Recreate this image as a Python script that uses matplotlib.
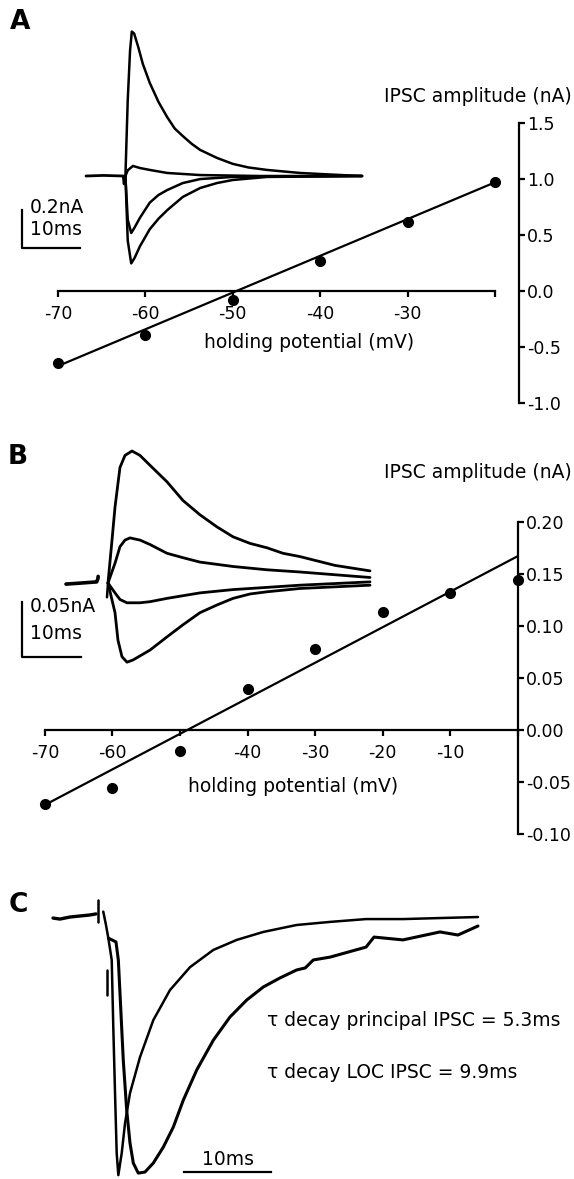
import matplotlib
matplotlib.use("Agg")
import matplotlib.pyplot as plt

W, H = 574, 1179
OUTFILENAME = "out.png"

# ---- panel A: IV relation ----
A_VOLTAGE = [-70, -60, -50, -40, -30, -20]
A_AMPLITUDE = [-0.64, -0.39, -0.08, 0.27, 0.62, 0.97]
A_FIT_V = [-70, -20]
A_FIT_I = [-0.67, 0.97]
A_XTICKS = [-70, -60, -50, -40, -30, -20]
A_XTICKLABELS = ["-70", "-60", "-50", "-40", "-30", ""]
A_YTICKS = [-1.0, -0.5, 0.0, 0.5, 1.0, 1.5]

# panel A traces (ms, nA)
A_BASE_T = [0.0, 3.0, 6.4]
A_BASE_I = [0.0, 0.003, 0.0]
A_ART_T = [6.4, 6.55, 6.8]
A_ART_I = [0.0, -0.042, 0.0]
A_TOP_T = [6.8, 7.2, 7.6, 7.9, 8.3, 8.6, 9.0, 9.8, 11.0, 12.5, 14.0, 15.3, 16.7, 18.2, 19.7, 22.6, 25.3, 28.0, 31.2, 36.9, 42.0, 47.6]
A_TOP_I = [0.0, 0.40, 0.66, 0.76, 0.75, 0.72, 0.68, 0.59, 0.49, 0.39, 0.31, 0.25, 0.21, 0.17, 0.137, 0.095, 0.064, 0.045, 0.032, 0.016, 0.008, 0.0]
A_SMALL_T = [6.8, 7.2, 8.1, 9.3, 11.0, 14.0, 19.7, 30.0, 47.6]
A_SMALL_I = [0.0, 0.03, 0.053, 0.042, 0.032, 0.016, 0.005, 0.0, 0.0]
A_NEG1_T = [6.8, 7.2, 7.8, 8.4, 9.3, 11.0, 12.5, 14.0, 16.7, 19.7, 25.3, 47.6]
A_NEG1_I = [0.0, -0.23, -0.30, -0.27, -0.22, -0.14, -0.10, -0.074, -0.037, -0.016, -0.005, 0.0]
A_NEG2_T = [6.8, 7.2, 7.8, 8.4, 9.3, 11.0, 12.5, 14.0, 16.7, 19.7, 22.6, 25.3, 31.2, 47.6]
A_NEG2_I = [0.0, -0.34, -0.46, -0.43, -0.37, -0.28, -0.225, -0.18, -0.11, -0.063, -0.037, -0.021, -0.005, 0.0]

# ---- panel B: IV relation ----
B_VOLTAGE = [-70, -60, -50, -40, -30, -20, -10, 0]
B_AMPLITUDE = [-0.071, -0.056, -0.020, 0.039, 0.078, 0.113, 0.132, 0.144]
B_FIT_V = [-70, 0]
B_FIT_I = [-0.072, 0.167]
B_XTICKS = [-70, -60, -50, -40, -30, -20, -10, 0]
B_XTICKLABELS = ["-70", "-60", "", "-40", "-30", "-20", "-10", ""]
B_YTICKS = [-0.10, -0.05, 0.0, 0.05, 0.10, 0.15, 0.20]

# panel B traces (ms, nA)
B_BASE_T = [0.0, 2.7, 5.2, 5.42, 5.45]
B_BASE_I = [-0.001, 0.0, 0.001, 0.004, 0.006]
B_ART_T = [6.95, 7.12]
B_ART_I = [-0.013, 0.0]
B_TOP_T = [7.12, 7.80, 8.31, 9.15, 10.0, 11.19, 12.54, 14.24, 17.12, 19.83, 22.71, 25.59, 28.31, 31.19, 34.07, 36.78, 39.66, 45.59, 51.53]
B_TOP_I = [0.0, 0.039, 0.069, 0.105, 0.116, 0.120, 0.116, 0.107, 0.092, 0.075, 0.062, 0.051, 0.042, 0.036, 0.032, 0.027, 0.024, 0.016, 0.011]
B_MID_T = [7.12, 8.31, 9.15, 10.0, 10.85, 12.54, 14.24, 17.12, 19.83, 22.71, 28.31, 34.07, 39.66, 51.53]
B_MID_I = [0.0, 0.018, 0.033, 0.039, 0.041, 0.039, 0.035, 0.027, 0.023, 0.019, 0.015, 0.012, 0.010, 0.005]
B_LOW_T = [7.12, 8.31, 9.15, 10.34, 12.54, 14.24, 17.12, 22.71, 28.31, 34.07, 39.66, 51.53]
B_LOW_I = [0.0, -0.009, -0.015, -0.018, -0.018, -0.017, -0.014, -0.009, -0.006, -0.004, -0.002, 0.001]
B_NEG_T = [7.12, 8.31, 8.81, 9.49, 10.34, 11.36, 14.24, 17.12, 19.83, 22.71, 25.59, 28.31, 31.19, 34.07, 39.66, 51.53]
B_NEG_I = [0.0, -0.027, -0.052, -0.067, -0.072, -0.070, -0.061, -0.049, -0.038, -0.027, -0.020, -0.014, -0.010, -0.008, -0.005, -0.002]

# ---- panel C: normalised IPSCs (ms, fraction of peak) ----
C_BASE_T = [0.0, 0.8, 1.95, 3.1, 4.25, 4.94]
C_BASE_I = [-0.004, -0.008, 0.0, 0.004, 0.008, 0.012]
C_ART1_T = [5.17, 5.17]
C_ART1_I = [-0.019, 0.066]
C_START_T = [5.78, 6.09, 6.36]
C_START_I = [0.021, -0.031, -0.082]
C_ART2_T = [6.24, 6.24]
C_ART2_I = [-0.206, -0.304]
C_FAST_T = [6.36, 6.75, 6.93, 7.13, 7.32, 7.51, 7.90, 8.28, 8.85, 10.0, 11.53, 13.45, 15.75, 18.43, 21.12, 24.18, 28.0, 31.84, 35.98, 40.23, 44.48, 48.85]
C_FAST_I = [-0.082, -0.167, -0.428, -0.685, -0.918, -1.004, -0.918, -0.802, -0.685, -0.545, -0.401, -0.284, -0.195, -0.128, -0.089, -0.058, -0.031, -0.019, -0.008, -0.008, -0.004, 0.0]
C_SLOW_T = [6.36, 7.24, 7.51, 7.70, 8.08, 8.47, 8.85, 9.23, 9.80, 10.57, 11.53, 12.68, 13.83, 14.98, 16.52, 18.43, 20.34, 22.26, 24.18, 26.09, 28.0, 29.0, 29.92, 31.84, 35.98, 36.9, 40.23, 44.48, 46.55, 48.85]
C_SLOW_I = [-0.082, -0.097, -0.167, -0.296, -0.558, -0.751, -0.879, -0.957, -0.996, -0.992, -0.957, -0.895, -0.817, -0.712, -0.595, -0.479, -0.389, -0.323, -0.272, -0.237, -0.206, -0.198, -0.167, -0.156, -0.117, -0.078, -0.089, -0.058, -0.070, -0.035]
C_TEXT = ["\u03c4 decay principal IPSC = 5.3ms", "\u03c4 decay LOC IPSC = 9.9ms"]

LW = 1.6
TRACELW = 1.8
TICKSIZE = 12.5
LABELSIZE = 13.5


def PxBox(x0, y0, x1, y1):
	return [x0 / W, 1 - y1 / H, (x1 - x0) / W, (y1 - y0) / H]


def FigText(fig, x, y, s, **kw):
	fig.text(x / W, 1 - y / H, s, **kw)


def IVAxes(fig, box, xlim, ylim, yspine, xticks, xlabels, yticks, yfmt):
	ax = fig.add_axes(PxBox(*box))
	ax.patch.set_visible(False)
	ax.set_xlim(xlim)
	ax.set_ylim(ylim)
	ax.spines["top"].set_visible(False)
	ax.spines["left"].set_visible(False)
	ax.spines["bottom"].set_position(("data", 0))
	ax.spines["right"].set_position(("data", yspine))
	ax.spines["bottom"].set_bounds(xticks[0], xticks[-1])
	ax.spines["right"].set_bounds(yticks[0], yticks[-1])
	for s in ("bottom", "right"):
		ax.spines[s].set_linewidth(LW)
	ax.xaxis.set_ticks_position("bottom")
	ax.yaxis.set_ticks_position("right")
	ax.set_xticks(xticks)
	ax.set_xticklabels(xlabels)
	ax.set_yticks(yticks)
	ax.set_yticklabels([yfmt % v for v in yticks])
	ax.tick_params(axis="x", direction="out", length=4, width=LW, labelsize=TICKSIZE, pad=6)
	ax.tick_params(axis="y", direction="out", length=4, width=LW, labelsize=TICKSIZE, pad=2)
	return ax


def TraceAxes(fig, box, xlim, ylim):
	ax = fig.add_axes(PxBox(*box))
	ax.patch.set_visible(False)
	ax.set_xlim(xlim)
	ax.set_ylim(ylim)
	ax.axis("off")
	return ax


def Trace(ax, t, i, lw=TRACELW):
	ax.plot(t, i, color="black", lw=lw, solid_joinstyle="round", solid_capstyle="round", clip_on=False)


def Main():
	plt.rcParams["font.family"] = ["DejaVu Sans"]
	fig = plt.figure(figsize=(W / 100, H / 100), dpi=100)

	# ---------- A ----------
	ax = IVAxes(fig, (40, 110, 540, 420), (-72.06, -14.85), (-1.152, 1.616), -17.3,
		A_XTICKS, A_XTICKLABELS, A_YTICKS, "%.1f")
	ax.plot(A_FIT_V, A_FIT_I, color="black", lw=LW, clip_on=False)
	ax.plot(A_VOLTAGE, A_AMPLITUDE, "o", color="black", ms=7, clip_on=False)
	FigText(fig, 572, 97, "IPSC amplitude (nA)", ha="right", va="center", fontsize=LABELSIZE)
	FigText(fig, 309, 342, "holding potential (mV)", ha="center", va="center", fontsize=LABELSIZE)

	tx = TraceAxes(fig, (10, 20, 370, 275), (-13.10, 48.97), (-0.521, 0.821))
	Trace(tx, A_BASE_T, A_BASE_I, lw=2.0)
	Trace(tx, A_ART_T, A_ART_I)
	for t, i in ((A_TOP_T, A_TOP_I), (A_SMALL_T, A_SMALL_I), (A_NEG1_T, A_NEG1_I), (A_NEG2_T, A_NEG2_I)):
		Trace(tx, t, i)
	# scale bar 0.2 nA / 10 ms
	tx.plot([-11.03, -11.03, -1.03], [-0.379 + 0.2, -0.379, -0.379], color="black", lw=LW, clip_on=False)
	tx.text(-9.7, -0.168, "0.2nA", fontsize=LABELSIZE, va="center", ha="left")
	tx.text(-9.7, -0.284, "10ms", fontsize=LABELSIZE, va="center", ha="left")
	FigText(fig, 20, 22, "A", fontsize=19, fontweight="bold", ha="center", va="center")

	# ---------- B ----------
	ax = IVAxes(fig, (30, 510, 540, 845), (-72.22, 3.33), (-0.1106, 0.2115), 0,
		B_XTICKS, B_XTICKLABELS, B_YTICKS, "%.2f")
	ax.plot(B_FIT_V, B_FIT_I, color="black", lw=LW, clip_on=False)
	ax.plot(B_VOLTAGE, B_AMPLITUDE, "o", color="black", ms=7, clip_on=False)
	FigText(fig, 572, 472, "IPSC amplitude (nA)", ha="right", va="center", fontsize=LABELSIZE)
	FigText(fig, 293, 786, "holding potential (mV)", ha="center", va="center", fontsize=LABELSIZE)

	tx = TraceAxes(fig, (10, 440, 390, 680), (-9.49, 54.92), (-0.0882, 0.13))
	Trace(tx, B_BASE_T, B_BASE_I, lw=2.6)
	Trace(tx, B_ART_T, B_ART_I)
	for t, i in ((B_TOP_T, B_TOP_I), (B_MID_T, B_MID_I), (B_LOW_T, B_LOW_I), (B_NEG_T, B_NEG_I)):
		Trace(tx, t, i, lw=2.0)
	# scale bar 0.05 nA / 10 ms
	tx.plot([-7.46, -7.46, 2.54], [-0.0673 + 0.05, -0.0673, -0.0673], color="black", lw=LW, clip_on=False)
	tx.text(-6.1, -0.0218, "0.05nA", fontsize=LABELSIZE, va="center", ha="left")
	tx.text(-6.1, -0.0455, "10ms", fontsize=LABELSIZE, va="center", ha="left")
	FigText(fig, 18, 457, "B", fontsize=19, fontweight="bold", ha="center", va="center")

	# ---------- C ----------
	tx = TraceAxes(fig, (40, 880, 500, 1179), (-1.494, 51.38), (-1.019, 0.144))
	Trace(tx, C_BASE_T, C_BASE_I, lw=2.4)
	Trace(tx, C_ART1_T, C_ART1_I)
	Trace(tx, C_START_T, C_START_I)
	Trace(tx, C_ART2_T, C_ART2_I)
	Trace(tx, C_FAST_T, C_FAST_I)
	Trace(tx, C_SLOW_T, C_SLOW_I, lw=2.2)
	tx.plot([15.06, 25.06], [-0.992, -0.992], color="black", lw=LW, clip_on=False)
	tx.text(20.06, -0.942, "10ms", fontsize=LABELSIZE, ha="center", va="center")
	FigText(fig, 267, 1020, C_TEXT[0], fontsize=13.5, ha="left", va="center")
	FigText(fig, 267, 1073, C_TEXT[1], fontsize=13.5, ha="left", va="center")
	FigText(fig, 18, 905, "C", fontsize=19, fontweight="bold", ha="center", va="center")

	fig.savefig(OUTFILENAME, dpi=100)
	plt.close(fig)


if __name__ == "__main__":
	Main()
